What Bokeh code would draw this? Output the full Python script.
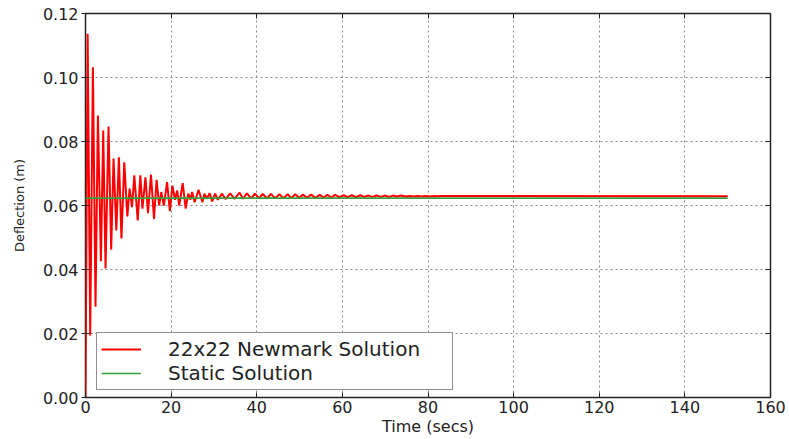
from bokeh.plotting import figure
from bokeh.models import (Range1d, FixedTicker, NumeralTickFormatter, LinearAxis,
                          CustomJSTickFormatter, Legend, LegendItem)
from bokeh.embed import file_html
from bokeh.resources import INLINE

# ---- data (extrema of the response) ----
time_newmark = [0.0, 0.5, 1.1, 1.73, 2.34, 2.9, 3.6, 4.14, 4.68, 5.38, 6.0, 6.55, 7.2, 7.8,
                8.4, 9.06, 9.77, 10.3, 10.86, 11.4, 12.2, 12.8, 13.3, 14.0, 14.6, 15.3, 16.0,
                16.6, 17.2, 17.7, 18.3, 19.06, 19.7, 20.3, 20.9, 21.4, 21.9, 22.7, 23.4, 24.0,
                24.5, 24.9, 25.5, 26.4, 27.3, 27.8, 28.3, 29.0, 29.6, 30.3, 30.9, 31.9, 32.7,
                33.8, 34.8, 36.0, 36.8, 37.7, 38.7, 39.6, 40.5, 41.4, 42.4, 43.3, 44.3, 45.3,
                46.2, 47.2, 48.1, 49.0, 49.9, 50.8, 51.7, 52.7, 53.7, 54.7, 55.6, 56.5, 57.4,
                58.3, 59.3, 60.3, 61.2, 62.2, 63.2, 64.2, 65.1, 66.1, 67.0, 68.0, 69.0, 69.9,
                70.9, 71.8, 72.8, 73.7, 74.7, 75.6, 76.6, 77.5, 78.5, 79.4, 80.4, 81.3, 82.3,
                83.2, 150.0]
defl_newmark = [0.0, 0.1137, 0.0194, 0.1032, 0.0284, 0.0881, 0.0426, 0.0834, 0.0403, 0.0847,
                0.0462, 0.0747, 0.0522, 0.0751, 0.0497, 0.0735, 0.0566, 0.0653, 0.0595, 0.0694,
                0.0553, 0.0694, 0.0590, 0.0688, 0.0576, 0.0697, 0.0558, 0.0680, 0.0600, 0.0642,
                0.0600, 0.0673, 0.0582, 0.0662, 0.0618, 0.0647, 0.0600, 0.0670, 0.0590, 0.0637,
                0.0618, 0.0642, 0.0610, 0.0649, 0.0610, 0.0637, 0.0621, 0.0638, 0.0613, 0.0637,
                0.0618, 0.0637, 0.0620, 0.0638, 0.0621, 0.0640, 0.0621, 0.0638, 0.0622, 0.0637,
                0.0622, 0.0636, 0.0622, 0.0636, 0.0623, 0.0635, 0.0623, 0.0635, 0.0623, 0.0635,
                0.0624, 0.0634, 0.0624, 0.0634, 0.0624, 0.0633, 0.0625, 0.0633, 0.0625, 0.0633,
                0.0626, 0.0632, 0.0626, 0.0632, 0.0626, 0.0632, 0.0627, 0.0631, 0.0627, 0.0631,
                0.0627, 0.0631, 0.0627, 0.0631, 0.0628, 0.0631, 0.0628, 0.0630, 0.0628, 0.0630,
                0.0628, 0.0630, 0.0628, 0.0630, 0.0629, 0.0630, 0.0629]
time_static = [0.0, 150.0]
defl_static = [0.0623, 0.0623]

x_ticks = [0, 20, 40, 60, 80, 100, 120, 140, 160]
y_ticks = [0.0, 0.02, 0.04, 0.06, 0.08, 0.10, 0.12]

label_newmark = "22x22 Newmark Solution"
label_static = "Static Solution"
x_title = "Time (secs)"
y_title = "Deflection (m)"

FONT = "DejaVu Sans"
TXT = "#222222"

p = figure(width=789, height=439, output_backend="svg", toolbar_location=None,
           x_range=Range1d(0, 160), y_range=Range1d(0, 0.12),
           min_border_left=85, min_border_right=19, min_border_top=13, min_border_bottom=42,
           x_axis_label=x_title, y_axis_label=y_title)

p.background_fill_color = "white"
p.border_fill_color = "white"
p.outline_line_color = "#222222"
p.outline_line_width = 1.5

xax = p.below[0]
yax = p.left[0]
xax.ticker = FixedTicker(ticks=x_ticks)
yax.ticker = FixedTicker(ticks=y_ticks)
yax.formatter = NumeralTickFormatter(format="0.00")

for ax in (xax, yax):
    ax.axis_line_color = None
    ax.minor_tick_line_color = None
    ax.major_tick_line_color = "#222222"
    ax.major_tick_line_width = 1
    ax.major_label_text_font = FONT
    ax.major_label_text_font_size = "16px"
    ax.major_label_text_color = TXT
    ax.axis_label_text_font = FONT
    ax.axis_label_text_font_style = "normal"
    ax.axis_label_text_color = TXT

xax.major_tick_in = 5
xax.major_tick_out = 0
xax.major_label_standoff = 3
xax.axis_label_text_font_size = "16px"
xax.axis_label_standoff = 1

yax.major_tick_in = 4
yax.major_tick_out = 4
yax.major_label_standoff = 3
yax.axis_label_text_font_size = "13px"
yax.axis_label_standoff = 13

# ticks on top and right (inward, no labels)
empty = CustomJSTickFormatter(code="return ''")
top = LinearAxis(ticker=FixedTicker(ticks=x_ticks), formatter=empty,
                 axis_line_color=None, minor_tick_line_color=None,
                 major_tick_in=5, major_tick_out=0, major_label_standoff=0,
                 major_label_text_font_size="1px", major_tick_line_color="#222222")
right = LinearAxis(ticker=FixedTicker(ticks=y_ticks), formatter=empty,
                   axis_line_color=None, minor_tick_line_color=None,
                   major_tick_in=5, major_tick_out=0, major_label_standoff=0,
                   major_label_text_font_size="1px", major_tick_line_color="#222222")
p.add_layout(top, "above")
p.add_layout(right, "right")

for g in (p.xgrid[0], p.ygrid[0]):
    g.grid_line_color = "#8a8a8a"
    g.grid_line_width = 1
    g.grid_line_dash = "2 3"
p.xgrid[0].ticker = FixedTicker(ticks=x_ticks)
p.ygrid[0].ticker = FixedTicker(ticks=y_ticks)

r1 = p.line(time_newmark, defl_newmark, line_color="#ff0000", line_width=2)
r2 = p.line(time_static, defl_static, line_color="#3a9e3a", line_width=1.6)

legend = Legend(items=[LegendItem(label=label_newmark, renderers=[r1]),
                       LegendItem(label=label_static, renderers=[r2])],
                location=(11, 7), padding=4, spacing=0, margin=0,
                glyph_width=40, glyph_height=22, label_height=22,
                label_standoff=27, label_width=280,
                label_text_font=FONT, label_text_font_size="20px",
                label_text_color=TXT,
                border_line_color="#222222", border_line_width=1.5,
                background_fill_color="white", background_fill_alpha=1.0)
p.add_layout(legend)

open("out.html", "w").write(file_html(p, INLINE))
